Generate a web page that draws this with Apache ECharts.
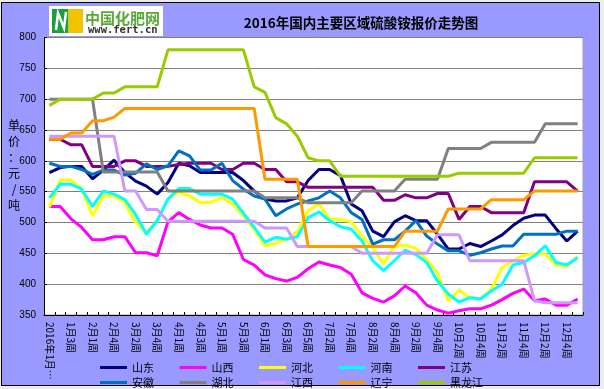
<!DOCTYPE html>
<html>
<head>
<meta charset="utf-8">
<script src="https://cdn.jsdelivr.net/npm/echarts@6/dist/echarts.min.js"></script>
<style>
html,body{margin:0;padding:0;background:#EDEDED;}
#frame{position:absolute;left:1px;top:2px;width:599px;height:384px;background:#9999FF;border:1px solid #000;box-sizing:border-box;}
#chart{position:absolute;left:0;top:0;width:604px;height:389px;}
</style>
</head>
<body>
<div id="frame"></div>
<div id="chart"></div>
<script>
const categories = ['2016年1月1周','1月2周','1月3周','1月4周','2月1周','2月3周','2月4周','3月1周','3月2周','3月3周','3月4周','3月5周','4月1周','4月2周','4月3周','4月4周','5月1周','5月2周','5月3周','5月4周','6月1周','6月2周','6月3周','6月4周','6月5周','7月1周','7月2周','7月3周','7月4周','8月1周','8月2周','8月3周','8月4周','9月1周','9月2周','9月3周','9月4周','10月1周','10月2周','10月3周','10月4周','11月1周','11月2周','11月3周','11月4周','12月1周','12月2周','12月3周','12月4周','12月5周'];

const seriesNames = ['山东','山西','河北','河南','江苏','安徽','湖北','江西','辽宁','黑龙江'];
const seriesColors = ['#000080','#FF00FF','#FFFF00','#00FFFF','#800080','#0070C0','#808080','#CC99FF','#FF9900','#99CC00'];

const shandong = [581,589,591,591,571,585,601,581,567,559,546,565,596,592,581,581,581,581,568,551,538,535,535,540,568,586,586,576,530,519,486,477,501,511,503,503,481,457,457,466,461,470,480,495,507,512,512,490,470,486];
const shanxi = [526,526,506,492,472,472,477,477,451,451,446,501,516,505,496,491,491,481,440,431,415,409,405,411,425,436,431,427,416,386,377,371,381,397,386,366,358,353,357,360,360,366,375,385,392,373,376,366,366,376];
const hebei = [525,569,569,554,511,543,543,532,500,484,503,538,549,543,532,533,540,530,511,489,462,466,473,485,519,530,506,505,501,478,459,433,462,463,458,440,418,373,390,378,376,392,427,438,447,449,449,431,429,445];
const henan = [540,562,562,554,526,551,546,537,513,481,503,538,555,555,546,546,546,538,515,492,468,476,473,477,508,517,503,493,489,470,438,422,438,455,448,435,405,384,371,378,376,389,400,431,435,446,462,435,431,443];
const jiangsu = [635,635,626,626,591,591,591,600,600,591,591,591,594,596,596,596,586,586,596,596,586,586,566,566,557,557,557,557,557,557,557,536,536,545,540,540,547,547,505,526,526,516,516,516,516,566,566,566,566,551];
const anhui = [596,591,591,586,578,585,585,577,580,595,586,592,616,608,585,585,596,568,554,543,538,511,522,530,535,540,551,540,516,505,465,472,472,486,503,478,465,454,454,447,451,457,462,462,481,481,481,481,486,486];
const hubei = [700,700,700,700,700,582,582,582,582,582,582,551,551,551,551,551,551,551,551,551,540,540,540,540,532,532,532,532,532,551,551,551,551,570,570,570,570,620,620,620,620,630,630,630,630,630,660,660,660,660];
const jiangxi = [640,640,640,640,640,640,640,551,551,521,521,502,502,502,502,502,502,502,502,502,491,491,491,461,461,461,461,461,461,450,450,450,450,450,450,450,480,480,480,438,438,438,438,438,438,373,370,370,370,370];
const liaoning = [635,635,645,645,665,665,671,685,685,685,685,685,685,685,685,685,685,685,685,685,570,570,570,570,461,461,461,461,461,461,461,461,461,486,486,486,486,522,522,522,522,537,537,537,537,551,551,551,551,551];
const heilongjiang = [690,700,700,700,700,710,710,720,720,720,720,780,780,780,780,780,780,780,780,720,711,670,660,640,605,600,600,575,575,575,575,575,575,575,575,575,575,575,580,580,580,580,580,580,580,605,605,605,605,605];

const yTicks = {min:350, max:800, interval:50};

const seriesData = [shandong, shanxi, hebei, henan, jiangsu, anhui, hubei, jiangxi, liaoning, heilongjiang];

const chart = echarts.init(document.getElementById('chart'), null, {renderer:'canvas'});

const legendCommon = {
  icon:'rect', itemWidth:27, itemHeight:3, itemGap:25.5, left:95, orient:'horizontal',
  textStyle:{fontSize:11, color:'#000', fontFamily:'Noto Sans CJK SC'}
};

const option = {
  backgroundColor:'transparent',
  animation:false,
  graphic:[
    {type:'rect', shape:{x:49,y:6,width:114,height:30}, style:{fill:'#fff'}},
    {type:'rect', shape:{x:52,y:9,width:16.5,height:24}, style:{fill:'#1E9E3C'}},
    {type:'rect', shape:{x:68.5,y:9,width:14.5,height:24}, style:{fill:'#F2C300'}},
    {type:'polyline', shape:{points:[[56,30],[58,13],[64,28],[66,12]]}, style:{stroke:'#fff', lineWidth:2.5, fill:null}},
    {type:'text', style:{x:85, y:18, text:'中国化肥网', fill:'#5AA837', font:'bold 15px "Noto Sans CJK SC"', textAlign:'left', textVerticalAlign:'middle'}},
    {type:'text', style:{x:88, y:30, text:'www.fert.cn', fill:'#333', font:'bold 10.5px "DejaVu Sans Mono"', textAlign:'left', textVerticalAlign:'middle'}},
    {type:'text', style:{x:361, y:22.5, text:'2016年国内主要区域硫酸铵报价走势图', fill:'#000', font:'bold 13.5px "Noto Sans CJK SC"', textAlign:'center', textVerticalAlign:'middle'}},
    {type:'text', style:{x:14, y:165, text:'单\n价\n：\n元\n/\n吨', fill:'#000', font:'12px "Noto Sans CJK SC"', lineHeight:16, textAlign:'center', textVerticalAlign:'middle'}}
  ],
  grid:{left:44, right:21, top:37.5, bottom:74, show:true, backgroundColor:'#fff', borderColor:'#A0A0A0', borderWidth:1},
  legend:[
    Object.assign({}, legendCommon, {top:357, data:seriesNames.slice(0,5)}),
    Object.assign({}, legendCommon, {top:372, data:seriesNames.slice(5)})
  ],
  xAxis:{
    type:'category', data:categories, boundaryGap:true,
    axisLine:{lineStyle:{color:'#000', width:1}},
    axisTick:{show:true, inside:true, length:3, interval:0, lineStyle:{color:'#000'}},
    axisLabel:{interval:1, rotate:-90, margin:7, fontSize:10, color:'#000', fontFamily:'Noto Sans CJK SC',
      formatter:function(v){ return v.length > 8 ? v.slice(0,7) + '…' : v; }},
    splitLine:{show:false}
  },
  yAxis:{
    type:'value', min:yTicks.min, max:yTicks.max, interval:yTicks.interval,
    axisLine:{show:true, lineStyle:{color:'#000', width:1}},
    axisTick:{show:true, inside:true, length:3, lineStyle:{color:'#000'}},
    axisLabel:{fontSize:10, color:'#000', margin:8, fontFamily:'Liberation Sans'},
    splitLine:{lineStyle:{color:'#808080', width:1}}
  },
  series: seriesNames.map(function(n,i){
    return {name:n, type:'line', data:seriesData[i], symbol:'none', color:seriesColors[i],
      lineStyle:{width:3, color:seriesColors[i]}, z:2+i};
  })
};
chart.setOption(option);
</script>
</body>
</html>
